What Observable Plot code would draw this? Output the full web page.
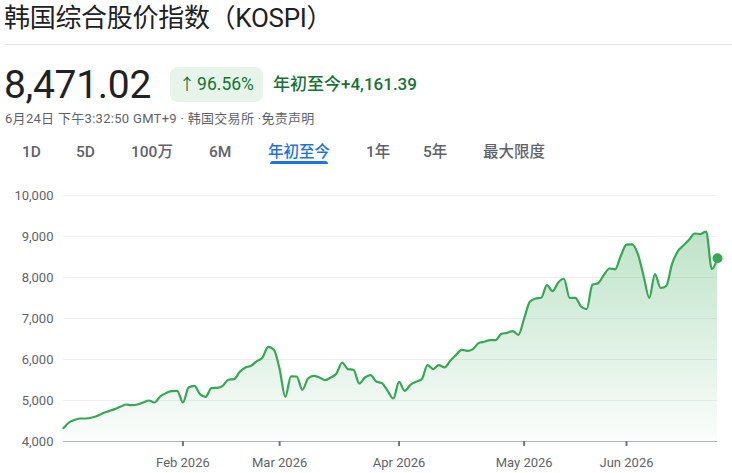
<!DOCTYPE html>
<html>
<head>
<meta charset="utf-8">
<script src="https://cdn.jsdelivr.net/npm/d3@7"></script>
<script src="https://cdn.jsdelivr.net/npm/@observablehq/plot@0.6"></script>
<style>
  html, body { margin: 0; padding: 0; background: #fff; }
  body { width: 732px; height: 473px; position: relative; overflow: hidden;
         font-family: Roboto, "Noto Sans CJK SC", sans-serif; color: #202124; }
  .abs { position: absolute; white-space: nowrap; }
  #title { left: 4px; top: 1px; font-size: 26px; line-height: 34px; color: #202124; letter-spacing: -0.3px; }
  #divider { left: 5px; right: 0; top: 44px; height: 1px; background: #e3e3e3; }
  #price { left: 4px; top: 62px; font-size: 39px; line-height: 46px; color: #202124; letter-spacing: -0.3px; }
  #badge { left: 170px; top: 67px; width: 93px; height: 35px; border-radius: 8px; background: #e6f4ea;
           color: #137333; font-size: 17.5px; line-height: 35px; text-align: center; }
  #badge .arr { font-size: 16px; margin-right: 2px; }
  #change { left: 273px; top: 71px; font-size: 17px; line-height: 26px; color: #137333; font-weight: 500; }
  #sub { left: 5px; top: 110px; font-size: 13px; line-height: 18px; color: #5f6368; letter-spacing: 0.3px; }
  .tab { top: 141px; font-size: 15.5px; line-height: 22px; color: #5f6368; font-weight: 500; }
  .tab.active { color: #1a73e8; }
  #underline { left: 270px; top: 161px; width: 58px; height: 3px; border-radius: 3px 3px 0 0; background: #1a73e8; }
  #chart { left: 0; top: 170px; }
</style>
</head>
<body>
<div id="title" class="abs"></div>
<div id="divider" class="abs"></div>
<div id="price" class="abs"></div>
<div id="badge" class="abs"></div>
<div id="change" class="abs"></div>
<div id="sub" class="abs"></div>
<div id="tabs"></div>
<div id="underline" class="abs"></div>
<div id="chart" class="abs"></div>
<script>
// ---- data ----
const titleText = "韩国综合股价指数（KOSPI）";
const lastPrice = "8,471.02";
const pctChange = "96.56%";
const changeText = "年初至今+4,161.39";
const subText = "6月24日 下午3:32:50 GMT+9 · 韩国交易所 ·免责声明";
const tabLabels = ["1D", "5D", "100万", "6M", "年初至今", "1年", "5年", "最大限度"];
const tabLefts = [22, 76, 131, 209, 268, 366, 423, 483];
const activeTab = "年初至今";

// daily closes, trading days Jan 2 – Jun 24 2026
const closes = [
  4327, 4468, 4530, 4561, 4561, 4585, 4627, 4693, 4741, 4790,
  4846, 4902, 4888, 4902, 4951, 5000, 4951, 5098, 5180, 5229,
  5236, 4951, 5317, 5359, 5156, 5090, 5302, 5310, 5359, 5505,
  5521, 5700, 5805, 5846, 5961, 6049, 6310, 6237, 5766, 5090,
  5590, 5585, 5261, 5537, 5602, 5561, 5497, 5561, 5659, 5927,
  5766, 5749, 5415, 5561, 5619, 5463, 5424, 5236, 5049, 5456,
  5236, 5383, 5456, 5521, 5863, 5766, 5863, 5805, 5968, 6107,
  6237, 6212, 6254, 6400, 6432, 6473, 6473, 6625, 6650, 6692,
  6602, 7000, 7407, 7488, 7505, 7814, 7668, 7880, 7970, 7505,
  7505, 7293, 7229, 7822, 7860, 8058, 8220, 8198, 8530, 8800,
  8810, 8571, 8041, 7505, 8082, 7745, 7797, 8325, 8634, 8780,
  8919, 9073, 9060, 9122, 8205, 8471.02
];
const monthTickIdx = [21, 38, 59, 81, 99];
const monthTickLabels = ["Feb 2026", "Mar 2026", "Apr 2026", "May 2026", "Jun 2026"];
const yTicks = [4000, 5000, 6000, 7000, 8000, 9000, 10000];

// ---- header ----
document.getElementById("title").textContent = titleText;
document.getElementById("price").textContent = lastPrice;
document.getElementById("badge").innerHTML = '<span class="arr">↑</span>' + pctChange;
document.getElementById("change").textContent = changeText;
document.getElementById("sub").textContent = subText;
const tabs = document.getElementById("tabs");
tabLabels.forEach((t, i) => {
  const d = document.createElement("div");
  d.className = "abs tab" + (t === activeTab ? " active" : "");
  d.style.left = tabLefts[i] + "px";
  d.textContent = t;
  tabs.appendChild(d);
});

// ---- chart ----
const data = closes.map((v, i) => ({i, v}));
const green = "#34a853";
const chart = Plot.plot({
  width: 732,
  height: 303,
  marginLeft: 63,
  marginRight: 15,
  marginTop: 25,
  marginBottom: 32,
  style: {fontFamily: 'Roboto, "Noto Sans CJK SC", sans-serif', fontSize: "13px", background: "#fff"},
  x: {type: "linear", domain: [0, closes.length - 1]},
  y: {domain: [4000, 10000]},
  marks: [
    Plot.ruleY(yTicks.filter(d => d > 4000), {stroke: "#efefef", strokeWidth: 1}),
    Plot.areaY(data, {x: "i", y1: 4000, y2: "v", fill: "url(#kospiGrad)", curve: "monotone-x"}),
    Plot.ruleY([4000], {stroke: "#b0b3b8", strokeWidth: 1.2}),
    Plot.axisY({ticks: yTicks, tickFormat: d3.format(","), tickSize: 0, tickPadding: 10,
                fill: "#5f6368", fontSize: 13, label: null}),
    Plot.axisX({ticks: monthTickIdx, tickFormat: d => monthTickLabels[monthTickIdx.indexOf(d)],
                tickSize: 5, tickPadding: 11, stroke: "#70757a", strokeWidth: 2, fill: "#5f6368",
                fontSize: 13, label: null}),
    Plot.lineY(data, {x: "i", y: "v", stroke: green, strokeWidth: 2.2, curve: "monotone-x"}),
    Plot.dot(data.slice(-1), {x: "i", y: "v", r: 5, fill: green, stroke: "none"})
  ]
});
const ns = "http://www.w3.org/2000/svg";
const defs = document.createElementNS(ns, "defs");
defs.innerHTML = '<linearGradient id="kospiGrad" x1="0" y1="0" x2="0" y2="1">' +
  '<stop offset="0%" stop-color="' + green + '" stop-opacity="0.32"/>' +
  '<stop offset="100%" stop-color="' + green + '" stop-opacity="0.02"/>' +
  '</linearGradient>';
chart.insertBefore(defs, chart.firstChild);
document.getElementById("chart").appendChild(chart);
</script>
</body>
</html>
